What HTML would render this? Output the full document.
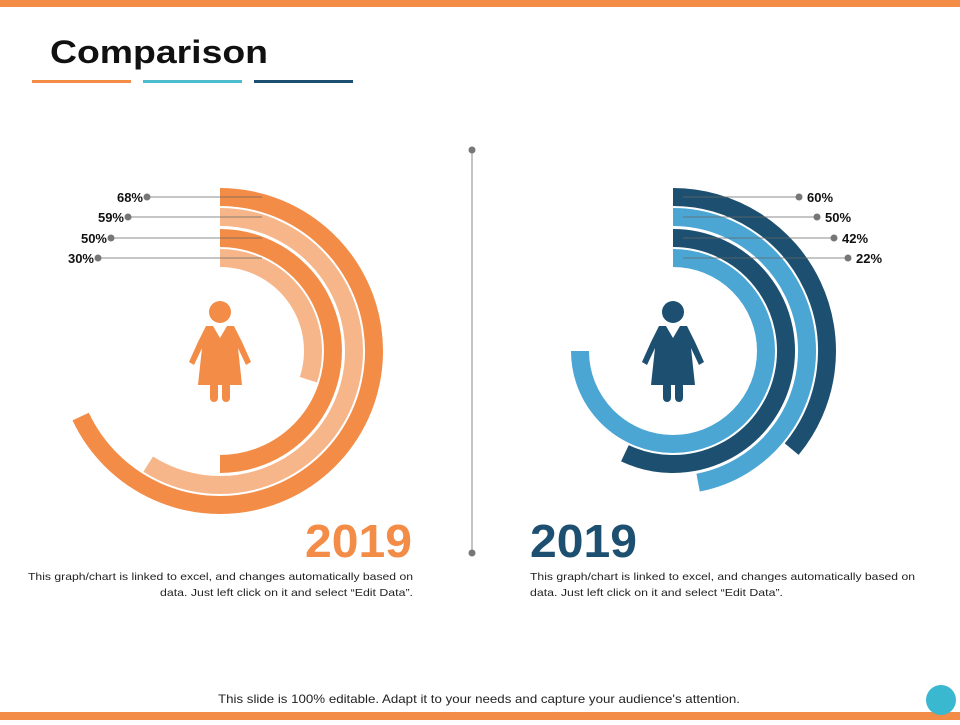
<!DOCTYPE html>
<html><head><meta charset="utf-8"><style>
body{margin:0;width:960px;height:720px;overflow:hidden;background:#fff;font-family:"Liberation Sans",sans-serif}
</style></head><body>
<svg id="s" width="960" height="720" xmlns="http://www.w3.org/2000/svg">
<rect x="0" y="0" width="960" height="7" fill="#f28c46"/>
<rect x="0" y="712" width="960" height="8" fill="#f28c46"/>
<text x="50" y="63" font-size="32" font-weight="bold" fill="#111" textLength="218" lengthAdjust="spacingAndGlyphs">Comparison</text>
<rect x="32" y="80" width="99" height="3" fill="#f28c46"/>
<rect x="143" y="80" width="99" height="3" fill="#4bbdcc"/>
<rect x="254" y="80" width="99" height="3" fill="#1d5070"/>
<line x1="472" y1="150" x2="472" y2="553" stroke="#888" stroke-width="1"/>
<circle cx="472" cy="150" r="3.5" fill="#777"/>
<circle cx="472" cy="553" r="3.5" fill="#777"/>
<g id="left"></g>
<g id="right"></g>
<text x="305" y="557" font-size="46" font-weight="bold" fill="#f28c46" textLength="107" lengthAdjust="spacingAndGlyphs">2019</text>
<text x="530" y="557" font-size="46" font-weight="bold" fill="#1d5070" textLength="107" lengthAdjust="spacingAndGlyphs">2019</text>
<text x="28" y="580" font-size="10.5" fill="#222" textLength="385" lengthAdjust="spacingAndGlyphs">This graph/chart is linked to excel, and changes automatically based on</text>
<text x="160" y="596" font-size="10.5" fill="#222" textLength="253" lengthAdjust="spacingAndGlyphs">data. Just left click on it and select “Edit Data”.</text>
<text x="530" y="580" font-size="10.5" fill="#222" textLength="385" lengthAdjust="spacingAndGlyphs">This graph/chart is linked to excel, and changes automatically based on</text>
<text x="530" y="596" font-size="10.5" fill="#222" textLength="253" lengthAdjust="spacingAndGlyphs">data. Just left click on it and select “Edit Data”.</text>
<text x="218" y="703" font-size="12" fill="#222" textLength="522" lengthAdjust="spacingAndGlyphs">This slide is 100% editable. Adapt it to your needs and capture your audience's attention.</text>
<circle cx="941" cy="700" r="15" fill="#3ab8d0"/>
</svg>
<script>
const leftLabels=["68%","59%","50%","30%"];
const leftValues=[68,59,50,30];
const rightLabels=["60%","50%","42%","22%"];
const rightValues=[36,47,57,75];
const NS="http://www.w3.org/2000/svg";
const radii=[154,134,113,93];
const CY=351;
function mk(tag,attrs,parent){const e=document.createElementNS(NS,tag);for(const k in attrs)e.setAttribute(k,attrs[k]);parent.appendChild(e);return e;}
function arc(cx,r,pct){
  const a=Math.min(pct,99.99)/100*2*Math.PI;
  const x=cx+r*Math.sin(a),y=CY-r*Math.cos(a);
  return `M${cx} ${CY-r} A${r} ${r} 0 ${a>Math.PI?1:0} 1 ${x.toFixed(2)} ${y.toFixed(2)}`;
}
function icon(g,cx,col){
  const p=mk('g',{fill:col},g);
  
  
  mk('circle',{cx:cx,cy:312,r:11},p);
  mk('path',{d:`M${cx-14} 326 L${cx+14} 326 L${cx+22} 342 L${cx+31} 362 L${cx+26} 365 L${cx+18} 348 L${cx+22} 385 L${cx-22} 385 L${cx-18} 348 L${cx-26} 365 L${cx-31} 362 L${cx-22} 342 Z`},p);
  mk('rect',{x:cx-10,y:382,width:8,height:20,rx:4},p);
  mk('rect',{x:cx+2,y:382,width:8,height:20,rx:4},p);
  mk('path',{d:`M${cx-7} 326 L${cx} 338 L${cx+7} 326 Z`,fill:'#fff'},p);
}
function draw(id,cx,values,labels,colors,side,dotX){
  const g=document.getElementById(id);
  values.forEach((v,i)=>{
    const p=mk('path',{d:arc(cx,radii[i],v),fill:'none',stroke:colors[i],'stroke-width':18},g);
    
    
  });
  labels.forEach((t,i)=>{
    const y=CY-radii[i];
    const ln=mk('line',{x1:side<0?dotX[i]:cx+10,y1:y,x2:side<0?cx+42:dotX[i],y2:y,stroke:'#666','stroke-width':0.8},g);
    
    
    const d=mk('circle',{cx:dotX[i],cy:y,r:3.5,fill:'#777'},g);
    
    
    const tx=mk('text',{x:side<0?dotX[i]-4:dotX[i]+8,y:y+5,'font-size':13,'font-weight':'bold',fill:'#111','text-anchor':side<0?'end':'start'},g);
    tx.textContent=t;
    
    
  });
  icon(g,cx,colors[0]==='#f28c46'?'#f28c46':'#1d5070');
}
draw('left',220,leftValues,leftLabels,['#f28c46','#f7b68a','#f28c46','#f7b68a'],-1,[147,128,111,98]);
draw('right',673,rightValues,rightLabels,['#1d5070','#4ba6d4','#1d5070','#4ba6d4'],1,[799,817,834,848]);
</script>
</body></html>
